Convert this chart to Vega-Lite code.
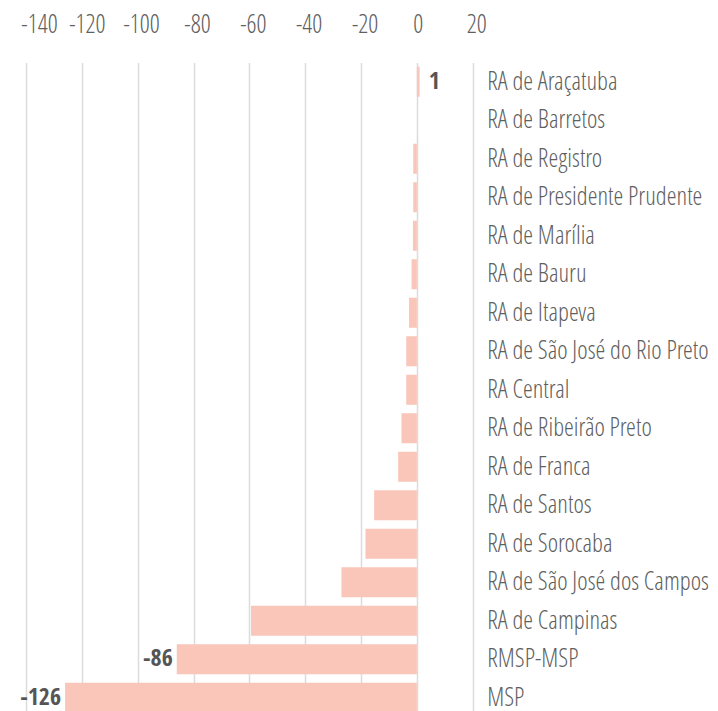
{
  "$schema": "https://vega.github.io/schema/vega-lite/v6.json",
  "autosize": {"type": "none"},
  "padding": {"left": 26, "top": 62.5, "right": 245.3, "bottom": 0},
  "width": 446.7,
  "height": 654.5,
  "background": "white",
  "config": {
    "view": {"stroke": null},
    "font": "Open Sans Condensed Light, Open Sans Condensed, DejaVu Sans Condensed, sans-serif"
  },
  "data": {
    "values": [
      {"regiao": "RA de Araçatuba", "valor": 1, "rotulo": "1"},
      {"regiao": "RA de Barretos", "valor": 0, "rotulo": ""},
      {"regiao": "RA de Registro", "valor": -1.3, "rotulo": ""},
      {"regiao": "RA de Presidente Prudente", "valor": -1.3, "rotulo": ""},
      {"regiao": "RA de Marília", "valor": -1.4, "rotulo": ""},
      {"regiao": "RA de Bauru", "valor": -1.9, "rotulo": ""},
      {"regiao": "RA de Itapeva", "valor": -2.8, "rotulo": ""},
      {"regiao": "RA de São José do Rio Preto", "valor": -3.8, "rotulo": ""},
      {"regiao": "RA Central", "valor": -3.8, "rotulo": ""},
      {"regiao": "RA de Ribeirão Preto", "valor": -5.5, "rotulo": ""},
      {"regiao": "RA de Franca", "valor": -6.7, "rotulo": ""},
      {"regiao": "RA de Santos", "valor": -15.3, "rotulo": ""},
      {"regiao": "RA de Sorocaba", "valor": -18.4, "rotulo": ""},
      {"regiao": "RA de São José dos Campos", "valor": -27, "rotulo": ""},
      {"regiao": "RA de Campinas", "valor": -59.4, "rotulo": ""},
      {"regiao": "RMSP-MSP", "valor": -86, "rotulo": "-86"},
      {"regiao": "MSP", "valor": -126, "rotulo": "-126"}
    ]
  },
  "encoding": {
    "y": {
      "field": "regiao",
      "type": "nominal",
      "sort": null,
      "scale": {"paddingInner": 0.22, "paddingOuter": 0.11},
      "axis": {
        "orient": "right",
        "title": null,
        "domain": false,
        "ticks": false,
        "labelPadding": 14,
        "labelFontSize": 25,
        "labelFontWeight": 300,
        "labelColor": "#5f5f5f",
        "labelFont": "Open Sans Condensed Light, Open Sans Condensed, DejaVu Sans Condensed, sans-serif",
        "labelAlign": "left",
        "labelLimit": 260
      }
    },
    "x": {
      "field": "valor",
      "type": "quantitative",
      "scale": {"domain": [-140, 20], "nice": false},
      "axis": {
        "orient": "top",
        "title": null,
        "domain": false,
        "ticks": false,
        "values": [-140, -120, -100, -80, -60, -40, -20, 0, 20],
        "labelExpr": "toString(datum.value)",
        "labelPadding": 25,
        "labelOffset": {"condition": [{"test": "datum.value == -140", "value": 13}, {"test": "datum.value == -120", "value": 5}, {"test": "datum.value == 0", "value": 1}], "value": 3.5},
        "labelFontSize": 25,
        "labelFontWeight": 300,
        "labelColor": "#5f5f5f",
        "labelFont": "Open Sans Condensed Light, Open Sans Condensed, DejaVu Sans Condensed, sans-serif",
        "gridColor": "#dcdcdc",
        "gridWidth": 1.5,
        "labelFlush": false,
        "labelOverlap": false
      }
    }
  },
  "layer": [
    {"mark": {"type": "bar", "color": "#F9C6B9"}},
    {
      "transform": [{"filter": "datum.valor > 0"}],
      "mark": {"type": "text", "align": "left", "dx": 9, "fontSize": 24, "fontWeight": "bold", "font": "Open Sans Condensed Bold, Open Sans Condensed, sans-serif", "color": "#555555"},
      "encoding": {"text": {"field": "rotulo"}}
    },
    {
      "transform": [{"filter": "datum.rotulo != '' && datum.valor < 0"}],
      "mark": {"type": "text", "align": "right", "dx": -4, "fontSize": 24, "fontWeight": "bold", "font": "Open Sans Condensed Bold, Open Sans Condensed, sans-serif", "color": "#555555"},
      "encoding": {"text": {"field": "rotulo"}}
    }
  ]
}
